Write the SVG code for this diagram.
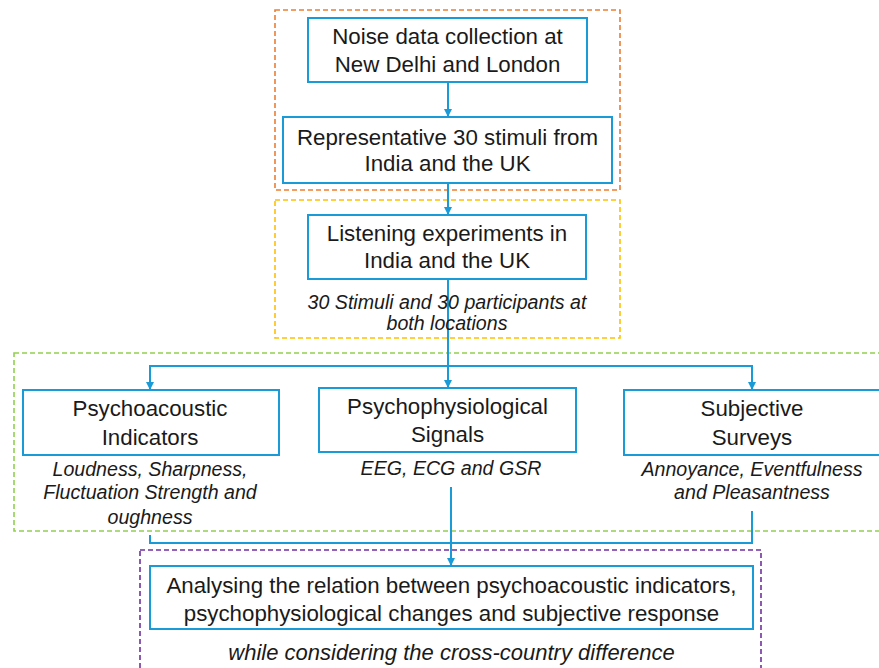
<svg xmlns="http://www.w3.org/2000/svg" width="879" height="668" viewBox="0 0 879 668">
<style>
.bg{fill:#ffffff}
.node{fill:#ffffff;stroke:#1a9ad6;stroke-width:2}
.t{font-family:"Liberation Sans",Arial,sans-serif;font-size:22.3px;fill:#1a1a1a;text-anchor:middle}
.i{font-family:"Liberation Sans",Arial,sans-serif;font-size:19.6px;font-style:italic;fill:#1a1a1a;text-anchor:middle}
.ib{font-family:"Liberation Sans",Arial,sans-serif;font-size:22px;font-style:italic;fill:#1a1a1a;text-anchor:middle}
.grp{fill:none;stroke-width:1.6;stroke-dasharray:5 3}
.c{fill:none;stroke:#1a9ad6;stroke-width:2}
</style>
<defs>
<marker id="ah" markerWidth="8" markerHeight="8" refX="7" refY="4" orient="auto" markerUnits="userSpaceOnUse">
<path d="M0,0 L8,4 L0,8 Z" fill="#1a9ad6"/>
</marker>
</defs>
<rect class="bg" x="0" y="0" width="879" height="668"/>
<g id="groups">
<rect class="grp" x="275" y="10" width="345" height="180" stroke="#ED7D31"/>
<rect class="grp" x="275" y="200" width="345" height="138" stroke="#FFC000"/>
<rect class="grp" x="14" y="353" width="880" height="178" stroke="#92D050"/>
<rect class="grp" x="140" y="550" width="621" height="130" stroke="#7030A0"/>
</g>
<g id="connectors">
<path class="c" d="M448,82 V116" marker-end="url(#ah)"/>
<path class="c" d="M448,183 V214" marker-end="url(#ah)"/>
<path class="c" d="M448,279 V387" marker-end="url(#ah)"/>
<path class="c" d="M150,389 V366 H752 V389" marker-end="url(#ah)"/>
<path class="c" d="M150,366 V389" marker-end="url(#ah)"/>
<path class="c" d="M150,535 V543 H752 V511"/>
<path class="c" d="M451,487 V565" marker-end="url(#ah)"/>
</g>
<g id="n1">
<rect class="node" x="308" y="18" width="279" height="64"/>
<text class="t" x="447.5" y="44">Noise data collection at</text>
<text class="t" x="447.5" y="72">New Delhi and London</text>
</g>
<g id="n2">
<rect class="node" x="283" y="117" width="329" height="66"/>
<text class="t" x="447.5" y="145">Representative 30 stimuli from</text>
<text class="t" x="447.5" y="171">India and the UK</text>
</g>
<g id="n3">
<rect class="node" x="308" y="215" width="278" height="64"/>
<text class="t" x="447" y="241">Listening experiments in</text>
<text class="t" x="447" y="268">India and the UK</text>
<text class="i" x="447" y="309">30 Stimuli and 30 participants at</text>
<text class="i" x="447" y="330">both locations</text>
</g>
<g id="n4">
<rect class="node" x="23" y="390" width="256" height="65"/>
<text class="t" x="150" y="416">Psychoacoustic</text>
<text class="t" x="150" y="445">Indicators</text>
<text class="i" x="150" y="476">Loudness, Sharpness,</text>
<text class="i" x="150" y="499">Fluctuation Strength and</text>
<text class="i" x="150" y="524">oughness</text>
</g>
<g id="n5">
<rect class="node" x="319" y="388" width="257" height="64"/>
<text class="t" x="447.5" y="414">Psychophysiological</text>
<text class="t" x="447.5" y="442">Signals</text>
<text class="i" x="451" y="475">EEG, ECG and GSR</text>
</g>
<g id="n6">
<rect class="node" x="624" y="390" width="264" height="65"/>
<text class="t" x="752" y="416">Subjective</text>
<text class="t" x="752" y="445">Surveys</text>
<text class="i" x="752" y="476">Annoyance, Eventfulness</text>
<text class="i" x="752" y="499">and Pleasantness</text>
</g>
<g id="n7">
<rect class="node" x="150" y="566" width="603" height="63"/>
<text class="t" x="451.5" y="593">Analysing the relation between psychoacoustic indicators,</text>
<text class="t" x="451.5" y="621">psychophysiological changes and subjective response</text>
<text class="ib" x="451.5" y="660">while considering the cross-country difference</text>
</g>
</svg>
